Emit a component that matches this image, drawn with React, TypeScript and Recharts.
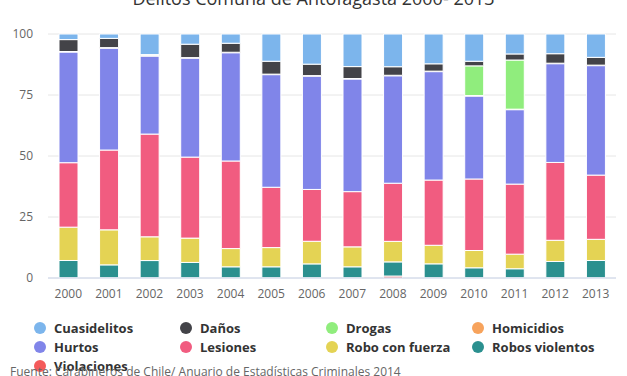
import React from "react";
import { BarChart, Bar, XAxis, YAxis, CartesianGrid, Legend } from "recharts";

document.body.style.margin = "0";

const YEARS = ["2000", "2001", "2002", "2003", "2004", "2005", "2006", "2007", "2008", "2009", "2010", "2011", "2012", "2013"];

// shares (%), per year
const CUASIDELITOS = [2.3, 1.8, 8.5, 4.2, 3.8, 11.2, 12.4, 13.4, 13.4, 12.2, 11.2, 8.2, 8.1, 9.6];
const DANOS = [4.9, 3.8, 0.4, 5.5, 3.7, 5.3, 4.7, 4.9, 3.5, 3.0, 1.9, 2.5, 3.9, 3.2];
const DROGAS = [0, 0, 0, 0, 0, 0, 0, 0, 0, 0, 12.2, 20.2, 0, 0];
const HOMICIDIOS = [0.2, 0.2, 0.2, 0.2, 0.2, 0.2, 0.2, 0.2, 0.2, 0.2, 0.2, 0.2, 0.2, 0.2];
const HURTOS = [45.5, 41.9, 32.2, 40.7, 44.5, 46.3, 46.6, 46.3, 44.0, 44.4, 34.1, 30.6, 40.6, 45.0];
const LESIONES = [26.5, 32.8, 42.4, 33.3, 36.0, 24.8, 21.3, 22.7, 23.8, 26.7, 29.4, 28.8, 32.0, 26.4];
const ROBO_CON_FUERZA = [13.7, 14.4, 9.8, 10.0, 7.5, 7.9, 9.3, 8.2, 8.4, 7.6, 7.1, 6.0, 8.7, 8.7];
const ROBOS_VIOLENTOS = [7.1, 5.3, 7.1, 6.3, 4.5, 4.5, 5.7, 4.5, 5.8, 5.7, 4.1, 3.7, 6.7, 7.1];
const VIOLACIONES = [0.1, 0.1, 0.1, 0.1, 0.1, 0.1, 0.1, 0.1, 0.8, 0.1, 0.1, 0.1, 0.1, 0.1];

const Y_TICKS = [0, 0.25, 0.5, 0.75, 1];

// legend order; stacked bottom-up in reverse
const SERIES = [
  { key: "cuasidelitos", name: "Cuasidelitos", color: "#7cb5ec", values: CUASIDELITOS },
  { key: "danos", name: "Daños", color: "#434348", values: DANOS },
  { key: "drogas", name: "Drogas", color: "#90ed7d", values: DROGAS },
  { key: "homicidios", name: "Homicidios", color: "#f7a35c", values: HOMICIDIOS },
  { key: "hurtos", name: "Hurtos", color: "#8085e9", values: HURTOS },
  { key: "lesiones", name: "Lesiones", color: "#f15c80", values: LESIONES },
  { key: "roboFuerza", name: "Robo con fuerza", color: "#e4d354", values: ROBO_CON_FUERZA },
  { key: "robosViolentos", name: "Robos violentos", color: "#2b908f", values: ROBOS_VIOLENTOS },
  { key: "violaciones", name: "Violaciones", color: "#f45b5b", values: VIOLACIONES },
];

const data = YEARS.map((year, i) => {
  const row: Record<string, string | number> = { year };
  SERIES.forEach((s) => {
    row[s.key] = s.values[i];
  });
  return row;
});

const FONT = "'Open Sans', sans-serif";

function LegendGrid() {
  return (
    <div style={{ position: "relative", width: 627, height: 60, fontFamily: FONT }}>
      {SERIES.map((s, i) => {
        const col = i % 4;
        const row = Math.floor(i / 4);
        return (
          <div
            key={s.key}
            style={{
              position: "absolute",
              left: 34 + col * 146,
              top: row * 19,
              height: 19,
              display: "flex",
              alignItems: "center",
              whiteSpace: "nowrap",
            }}
          >
            <span
              style={{
                width: 12,
                height: 12,
                borderRadius: 6,
                background: s.color,
                display: "inline-block",
                marginRight: 8,
              }}
            />
            <span style={{ fontSize: 13, fontWeight: 700, color: "#333333" }}>{s.name}</span>
          </div>
        );
      })}
    </div>
  );
}

export default function App() {
  const stackOrder = [...SERIES].reverse();
  return (
    <div style={{ position: "relative", width: 627, height: 376, overflow: "hidden", background: "#fff" }}>
      <div
        style={{
          position: "absolute",
          left: 0,
          width: 627,
          top: -14,
          textAlign: "center",
          fontFamily: FONT,
          fontSize: 18,
          color: "#333333",
          lineHeight: "24px",
        }}
      >
        Delitos Comuna de Antofagasta 2000- 2013
      </div>
      <BarChart
        width={627}
        height={376}
        data={data}
        stackOffset="expand"
        margin={{ top: 34, right: 11, left: 0, bottom: 68 }}
      >
        <CartesianGrid vertical={false} stroke="#e6e6e6" />
        <XAxis
          dataKey="year"
          height={30}
          tickLine={false}
          axisLine={{ stroke: "#ccd6eb" }}
          tickSize={0}
          tickMargin={11}
          tick={{ fontSize: 12, fill: "#666666", fontFamily: FONT }}
          interval={0}
        />
        <YAxis
          width={48}
          domain={[0, 1]}
          ticks={Y_TICKS}
          axisLine={false}
          tickLine={false}
          tickSize={0}
          tickMargin={15}
          tick={{ fontSize: 12, fill: "#666666", fontFamily: FONT }}
          tickFormatter={(v: number) => String(Math.round(v * 100))}
        />
        <Legend
          layout="horizontal"
          verticalAlign="middle"
          align="center"
          wrapperStyle={{ position: "absolute", left: 0, top: 318, width: 627 }}
          content={() => <LegendGrid />}
        />
        {stackOrder.map((s) => (
          <Bar
            key={s.key}
            dataKey={s.key}
            name={s.name}
            stackId="a"
            fill={s.color}
            stroke="#ffffff"
            strokeWidth={1}
            barSize={19}
            isAnimationActive={false}
          />
        ))}
      </BarChart>
      <div
        style={{
          position: "absolute",
          left: 10,
          top: 364,
          fontFamily: FONT,
          fontSize: 12,
          color: "#666666",
          whiteSpace: "nowrap",
          lineHeight: "16px",
        }}
      >
        Fuente: Carabineros de Chile/ Anuario de Estadísticas Criminales 2014
      </div>
    </div>
  );
}
